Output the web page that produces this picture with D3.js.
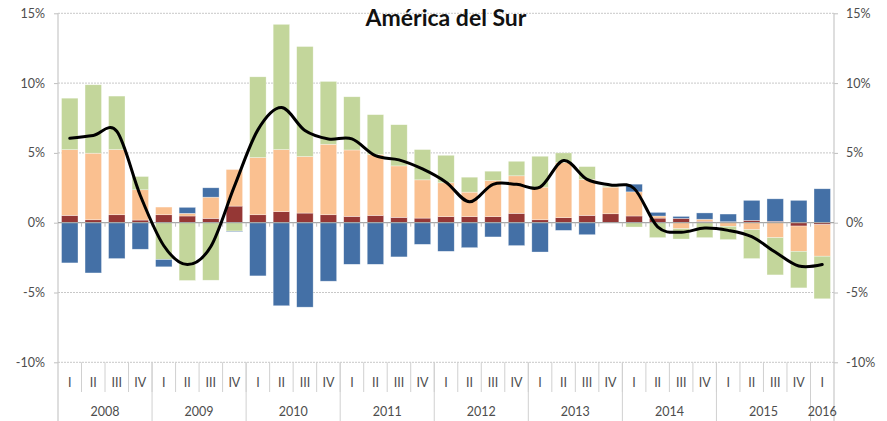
<!DOCTYPE html>
<html>
<head>
<meta charset="utf-8">
<script src="https://cdn.jsdelivr.net/npm/d3@7"></script>
<style>
  html, body { margin: 0; padding: 0; background: #fff; }
  svg { display: block; }
  text { font-family: Lato, "Open Sans", sans-serif; }
</style>
</head>
<body>
<svg id="chart" width="887" height="421"></svg>
<script>
// ---- Data (percent) ----
const quarters = ["I","II","III","IV","I","II","III","IV","I","II","III","IV","I","II","III","IV",
                  "I","II","III","IV","I","II","III","IV","I","II","III","IV","I","II","III","IV","I"];
const years = ["2008","2009","2010","2011","2012","2013","2014","2015","2016"];
const yearLengths = [4,4,4,4,4,4,4,4,1];

const serieRoja = [0.52,0.21,0.57,0.19, 0.57,0.48,0.31,1.19, 0.57,0.79,0.69,0.57, 0.45,0.52,0.38,0.33,
                   0.43,0.43,0.43,0.67, 0.21,0.36,0.52,0.64, 0.48,0.33,0.31,0.10, 0.07,0.17,0.10,-0.24, -0.14];
const serieNaranja = [4.71,4.77,4.67,2.17, 0.55,0.19,1.52,2.62, 4.10,4.45,4.05,5.05, 4.76,4.36,3.69,2.74,
                      2.43,1.76,2.59,2.69, 2.34,3.95,2.58,1.91, 1.73,0.15,-0.43,0.15, -0.26,-0.50,-1.07,-1.81, -2.26];
const serieVerde = [3.69,4.90,3.83,0.95, -2.64,-4.14,-4.12,-0.60, 5.78,8.97,7.88,4.50, 3.81,2.86,2.95,2.17,
                    1.97,1.07,0.67,1.04, 2.21,0.69,0.92,0.07, -0.31,-1.07,-0.74,-1.07, -0.95,-2.07,-2.67,-2.62, -3.05];
const serieAzul = [-2.88,-3.60,-2.57,-1.90, -0.52,0.43,0.67,-0.05, -3.81,-5.95,-6.05,-4.19, -2.98,-2.98,-2.45,-1.55,
                   -2.05,-1.79,-1.02,-1.64, -2.10,-0.55,-0.86,0.00, 0.55,0.26,0.14,0.45, 0.55,1.43,1.61,1.60, 2.43];
const total = [6.05,6.25,6.55,1.95, -1.65,-3.00,-1.70,2.60, 6.65,8.25,6.60,6.00, 6.00,4.80,4.50,3.85,
               2.90,1.50,2.75,2.75, 2.55,4.45,3.10,2.70, 2.45,-0.30,-0.68,-0.38, -0.55,-1.00,-2.10,-3.10, -3.00];
const yTicks = [-10,-5,0,5,10,15];

// ---- Layout ----
(function () {
const svg = d3.select("#chart");
const pLeft = 58, pRight = 834, pTop = 13.3, pBottom = 362.3;
const keys = ["roja","naranja","verde","azul"];
const colors = {roja:"#953735", naranja:"#FAC090", verde:"#C3D69B", azul:"#4470A6"};

const rows = quarters.map((q,i) => ({i, roja:serieRoja[i], naranja:serieNaranja[i], verde:serieVerde[i], azul:serieAzul[i]}));

const x = d3.scaleBand().domain(d3.range(quarters.length)).range([pLeft, pRight]).paddingInner(0.3).paddingOuter(0.15);
const step = x.step();
const y = d3.scaleLinear().domain([-10, 15]).range([pBottom, pTop]);

// gridlines
svg.append("g").selectAll("line").data(yTicks.filter(t => t !== 0)).join("line")
  .attr("x1", pLeft).attr("x2", pRight)
  .attr("y1", d => y(d)).attr("y2", d => y(d))
  .attr("stroke", "#c8c8c8").attr("stroke-width", 1).attr("stroke-dasharray", "2,1");

// left & right axes
const axL = svg.append("g").attr("transform", `translate(${pLeft},0)`)
  .call(d3.axisLeft(y).tickValues(yTicks).tickFormat(d => d + "%").tickSize(4).tickPadding(9));
const axR = svg.append("g").attr("transform", `translate(${pRight},0)`)
  .call(d3.axisRight(y).tickValues(yTicks).tickFormat(d => d + "%").tickSize(4).tickPadding(8));
[axL, axR].forEach(a => {
  a.select(".domain").remove();
  a.selectAll(".tick line").attr("stroke", "#bfbfbf");
  a.selectAll(".tick text").attr("fill", "#4d4d4d").attr("font-size", 12.5);
});
// vertical axis lines extending to bottom
svg.append("line").attr("x1", pLeft).attr("x2", pLeft).attr("y1", pTop).attr("y2", 421)
  .attr("stroke", "#c8c8c8").attr("stroke-width", 1.2);
svg.append("line").attr("x1", pRight).attr("x2", pRight).attr("y1", pTop).attr("y2", 421)
  .attr("stroke", "#c8c8c8").attr("stroke-width", 1.2);

// bars
const stacked = d3.stack().keys(keys).offset(d3.stackOffsetDiverging)(rows);
svg.append("g").selectAll("g").data(stacked).join("g")
  .attr("fill", d => colors[d.key])
  .selectAll("rect").data(d => d).join("rect")
  .attr("x", d => x(d.data.i))
  .attr("width", x.bandwidth())
  .attr("y", d => y(Math.max(d[0], d[1])))
  .attr("height", d => Math.abs(y(d[0]) - y(d[1])))
  .attr("stroke", "rgba(255,255,255,0.55)").attr("stroke-width", 0.6);

// zero line with small ticks
svg.append("line").attr("x1", pLeft).attr("x2", pRight).attr("y1", y(0)).attr("y2", y(0))
  .attr("stroke", "#a6a6a6").attr("stroke-width", 1.2);
svg.append("g").selectAll("line").data(d3.range(1, quarters.length)).join("line")
  .attr("x1", d => pLeft + d * step).attr("x2", d => pLeft + d * step)
  .attr("y1", y(0)).attr("y2", y(0) + 4)
  .attr("stroke", "#bfbfbf");

// total line
svg.append("path").datum(total)
  .attr("fill", "none").attr("stroke", "#000").attr("stroke-width", 3)
  .attr("stroke-linejoin", "round").attr("stroke-linecap", "round")
  .attr("d", d3.line().x((d,i) => x(i) + x.bandwidth()/2).y(d => y(d)).curve(d3.curveCardinal.tension(0)));

// category axis: quarter separators
svg.append("g").selectAll("line").data(d3.range(1, quarters.length)).join("line")
  .attr("x1", d => pLeft + d * step).attr("x2", d => pLeft + d * step)
  .attr("y1", pBottom).attr("y2", 392)
  .attr("stroke", "#d0d0d0");
// year separators
let cum = 0;
const yearBounds = yearLengths.map(n => { const s = cum; cum += n; return {s, e: cum}; });
svg.append("g").selectAll("line").data(yearBounds.slice(1)).join("line")
  .attr("x1", d => pLeft + d.s * step).attr("x2", d => pLeft + d.s * step)
  .attr("y1", pBottom).attr("y2", 421)
  .attr("stroke", "#d0d0d0");

svg.append("g").selectAll("text").data(quarters).join("text")
  .attr("x", (d,i) => x(i) + x.bandwidth()/2).attr("y", 386.5)
  .attr("text-anchor", "middle").attr("font-size", 12.5).attr("fill", "#4d4d4d")
  .text(d => d);
svg.append("g").selectAll("text").data(years).join("text")
  .attr("x", (d,i) => pLeft + (yearBounds[i].s + yearBounds[i].e) / 2 * step).attr("y", 415.5)
  .attr("text-anchor", "middle").attr("font-size", 12.5).attr("fill", "#4d4d4d")
  .text(d => d);

// title
svg.append("text").attr("x", 446).attr("y", 26).attr("text-anchor", "middle")
  .attr("font-size", 23).attr("font-weight", "bold").attr("fill", "#111")
  .text("América del Sur");
})();
</script>
</body>
</html>
